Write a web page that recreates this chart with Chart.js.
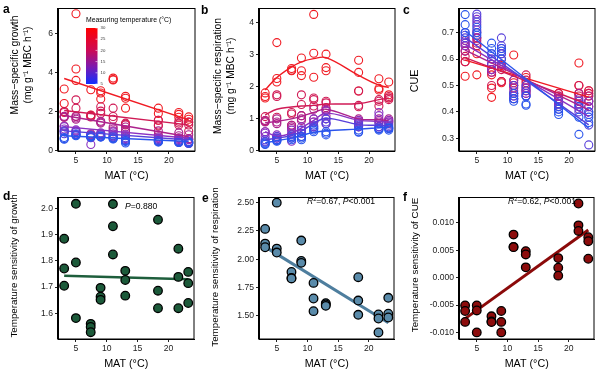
<!DOCTYPE html>
<html><head><meta charset="utf-8">
<script src="https://cdn.jsdelivr.net/npm/chart.js@4/dist/chart.umd.min.js"></script>
<style>
html,body{margin:0;padding:0;background:#fff}
body{width:600px;height:375px;position:relative;overflow:hidden}
canvas{position:absolute}
.lt{position:absolute;font:bold 12px "Liberation Sans",Arial,sans-serif;line-height:12px;color:#000}
</style></head><body>
<canvas id="pa" width="200" height="187" style="left:0;top:0"></canvas>
<canvas id="pb" width="200" height="187" style="left:200px;top:0"></canvas>
<canvas id="pc" width="200" height="187" style="left:400px;top:0"></canvas>
<canvas id="pd" width="200" height="188" style="left:0;top:187px"></canvas>
<canvas id="pe" width="200" height="188" style="left:200px;top:187px"></canvas>
<canvas id="pf" width="200" height="188" style="left:400px;top:187px"></canvas>
<div class="lt" style="left:3px;top:3px">a</div>
<div class="lt" style="left:201px;top:4px">b</div>
<div class="lt" style="left:403px;top:4px">c</div>
<div class="lt" style="left:3px;top:190px">d</div>
<div class="lt" style="left:202px;top:192px">e</div>
<div class="lt" style="left:403px;top:191px">f</div>
<script>
// ---------------- DATA ----------------
const mat = [3.1, 5, 7.4, 9, 11, 13, 18.3, 21.6, 23.2];
const temps = [5, 10, 15, 20, 25, 30];
const fitX = [3.1, 23.2];
const xTicks = [5, 10, 15, 20];

// (a) mass-specific growth, 3 replicates per site, per measuring temperature
const growth5  = [0.66,0.60,0.57, 0.80,0.78,0.75, 0.75,0.70,0.68, 0.72,0.70,0.68, 0.65,0.60,0.58, 0.50,0.45,0.38, 0.48,0.45,0.42, 0.45,0.42,0.40, 0.42,0.40,0.38];
const growth10 = [1.00,0.95,0.85, 0.95,0.85,0.80, 0.75,0.70,0.65, 0.80,0.75,0.70, 0.75,0.70,0.65, 0.65,0.55,0.50, 0.55,0.50,0.45, 0.50,0.45,0.40, 0.45,0.40,0.35];
const growth15 = [1.22,1.10,1.00, 1.05,1.00,0.95, 0.80,0.70,0.30, 0.90,0.85,0.80, 0.95,0.85,0.75, 0.80,0.75,0.60, 0.65,0.60,0.50, 0.60,0.55,0.45, 0.55,0.45,0.35];
const growth20 = [1.75,1.70,1.25, 1.75,1.66,1.60, 0.85,0.75,0.70, 1.50,1.45,1.40, 1.20,1.10,1.00, 1.20,1.05,0.95, 1.00,0.80,0.70, 0.90,0.75,0.65, 0.80,0.60,0.55];
const growth25 = [2.00,1.95,1.72, 2.60,2.17,1.74, 1.80,1.72,0.80, 2.24,2.02,1.90, 2.17,1.74,1.60, 1.40,1.35,1.30, 1.55,1.30,1.25, 1.50,1.40,1.30, 1.45,1.30,1.00];
const growth30 = [3.16,2.41,2.00, 7.03,4.19,3.60, 3.12,1.82,1.75, 3.07,2.95,2.64, 3.72,3.65,3.62, 2.78,2.68,2.17, 2.17,1.90,1.55, 1.95,1.85,1.70, 1.72,1.60,1.45];
const growthFit5 = [0.75, 0.45], growthFit10 = [1.00, 0.53], growthFit15 = [1.22, 0.62];
const growthFit20 = [1.79, 0.70], growthFit25 = [2.05, 1.31], growthFit30 = [3.70, 1.57];

// (b) mass-specific respiration
const resp5  = [0.25,0.22,0.20, 0.35,0.32,0.30, 0.45,0.40,0.35, 0.45,0.40,0.35, 0.70,0.65,0.60, 0.60,0.55,0.50, 0.65,0.60,0.58, 0.70,0.68,0.65, 0.72,0.70,0.65];
const resp10 = [0.35,0.30,0.28, 0.45,0.40,0.35, 0.50,0.45,0.40, 0.65,0.55,0.45, 0.80,0.75,0.70, 1.00,0.90,0.85, 0.85,0.80,0.75, 0.85,0.75,0.70, 0.80,0.75,0.70];
const resp15 = [0.60,0.55,0.45, 0.50,0.45,0.40, 0.65,0.55,0.30, 0.75,0.65,0.55, 1.00,0.90,0.75, 1.25,1.00,0.85, 0.95,0.90,0.75, 1.20,1.10,0.75, 0.95,0.90,0.85];
const resp20 = [0.95,0.90,0.60, 1.00,0.90,0.85, 0.80,0.75,0.70, 1.10,1.00,0.95, 1.30,1.00,0.90, 1.30,1.25,1.10, 1.00,0.95,0.90, 1.00,0.95,0.90, 1.00,0.95,0.90];
const resp25 = [1.07,0.95,0.92, 1.75,1.70,1.05, 1.20,1.15,0.80, 1.75,1.45,1.10, 1.65,1.60,1.40, 1.55,1.50,1.35, 1.87,1.42,1.38, 1.60,1.55,1.40, 1.70,1.65,1.60];
const resp30 = [1.81,1.70,1.65, 3.38,2.26,2.15, 2.57,2.52,2.50, 2.90,2.50,2.35, 4.26,3.05,2.30, 3.02,2.60,2.50, 2.83,2.45,1.87, 2.25,1.95,1.90, 2.15,1.75,1.65];
const respCurve5  = [0.25,0.32,0.40,0.48,0.58,0.63,0.68,0.72,0.74];
const respCurve10 = [0.34,0.40,0.48,0.62,0.85,1.02,0.82,0.80,0.78];
const respCurve15 = [0.60,0.46,0.55,0.72,0.95,1.18,0.96,0.92,0.90];
const respCurve20 = [0.88,0.92,1.00,1.08,1.20,1.30,1.00,0.97,0.95];
const respCurve25 = [1.12,1.30,1.37,1.40,1.42,1.46,1.48,1.60,1.65];
const respCurve30 = [1.90,2.29,2.62,2.78,2.88,2.91,2.36,2.05,1.98];

// (c) CUE
const cue5  = [0.768,0.73,0.70, 0.72,0.70,0.69, 0.66,0.64,0.62, 0.64,0.63,0.60, 0.47,0.45,0.44, 0.46,0.43,0.425, 0.41,0.40,0.39, 0.42,0.38,0.315, 0.40,0.38,0.36];
const cue10 = [0.70,0.69,0.68, 0.77,0.76,0.74, 0.62,0.60,0.58, 0.68,0.65,0.62, 0.50,0.46,0.45, 0.50,0.48,0.46, 0.44,0.42,0.41, 0.44,0.42,0.40, 0.39,0.35,0.275];
const cue15 = [0.67,0.66,0.65, 0.75,0.73,0.71, 0.60,0.58,0.56, 0.64,0.62,0.58, 0.52,0.48,0.46, 0.49,0.47,0.46, 0.45,0.43,0.42, 0.45,0.43,0.41, 0.44,0.42,0.40];
const cue20 = [0.66,0.65,0.63, 0.70,0.68,0.67, 0.58,0.56,0.55, 0.60,0.58,0.57, 0.50,0.47,0.45, 0.50,0.48,0.47, 0.46,0.44,0.43, 0.47,0.44,0.43, 0.46,0.44,0.42];
const cue25 = [0.63,0.61,0.59, 0.68,0.66,0.65, 0.56,0.55,0.50, 0.58,0.56,0.515, 0.52,0.49,0.47, 0.54,0.52,0.49, 0.47,0.45,0.43, 0.50,0.47,0.46, 0.48,0.47,0.44];
const cue30 = [0.67,0.59,0.535, 0.65,0.62,0.54, 0.54,0.49,0.455, 0.575,0.515,0.51, 0.615,0.51,0.50, 0.53,0.51,0.48, 0.47,0.46,0.45, 0.585,0.50,0.47, 0.48,0.47,0.46];
const cueFit5 = [0.706, 0.338], cueFit10 = [0.681, 0.351], cueFit15 = [0.655, 0.382];
const cueFit20 = [0.634, 0.408], cueFit25 = [0.605, 0.427], cueFit30 = [0.596, 0.456];

// (d)-(f) temperature sensitivities
const sensGrowth = [1.885,1.771,1.705, 2.019,1.794,1.581, 1.559,1.547,1.527, 1.697,1.663,1.651, 2.018,1.933,1.825, 1.762,1.727,1.667, 1.958,1.686,1.619, 1.847,1.739,1.619, 1.758,1.715,1.639];
const sensGrowthFit = [1.743, 1.730];
const sensResp = [2.268,2.138,2.106, 2.500,2.094,2.059, 1.888,1.835,1.830, 2.165,1.985,1.968, 1.791,1.653,1.541, 1.612,1.600,1.588, 1.841,1.635,1.509, 1.512,1.476,1.353, 1.659,1.518,1.485];
const sensRespFit = [2.109, 1.438];
const sensCUE = [-0.00506,-0.00608,-0.00807, -0.00506,-0.00598,-0.00998, -0.00705,-0.00800,-0.00810, -0.00608,-0.00807,-0.00998, 0.00783,0.00560,0.00555, 0.00482,0.00422,0.00187, 0.00355,0.00180,0.00036, 0.01350,0.00952,0.00850, 0.00735,0.00663,0.00343];
const sensCUEFit = [-0.00747, 0.00867];

// ---------------- STYLE ----------------
const tempColors = ['#2A55EC','#5840DA','#8A32C2','#AC228C','#D01A55','#F01A22'];

function hasFont(name){
  const c = document.createElement('canvas').getContext('2d');
  const s = 'MAT (°C) Temperature sensitivity 0123456789';
  c.font = '20px monospace'; const a = c.measureText(s).width;
  c.font = '20px "' + name + '", monospace'; const b = c.measureText(s).width;
  return Math.abs(a - b) > 0.5;
}
const NARROW = hasFont('Liberation Sans Narrow');
const FAM = NARROW ? '"Liberation Sans Narrow","Liberation Sans",Arial,sans-serif' : '"Liberation Sans",Arial,sans-serif';
const K = NARROW ? 1 : 0.86;
Chart.defaults.font.family = FAM;

const pts = arr => arr.map((v, i) => ({x: mat[Math.floor(i / 3)], y: v}));
const line2 = f => fitX.map((x, j) => ({x, y: f[j]}));
const curve = c => mat.map((x, j) => ({x, y: c[j]}));

const boxPlugin = {id:'box', afterDraw(ch){
  const {ctx, chartArea:a} = ch; ctx.save(); ctx.strokeStyle = '#000'; ctx.lineWidth = 1;
  ctx.strokeRect(Math.round(a.left) - 0.5, Math.round(a.top) + 0.5, Math.round(a.right - a.left) + 0.5, Math.round(a.bottom - a.top) - 0.5);
  ctx.restore();
}};
const ytitlePlugin = {id:'ytitle', afterDraw(ch, args, o){
  if (!o || !o.lines) return;
  const ctx = ch.ctx; ctx.save();
  ctx.translate(o.x, o.cy); ctx.rotate(-Math.PI / 2);
  ctx.fillStyle = '#000'; ctx.textAlign = 'center'; ctx.textBaseline = 'middle';
  ctx.font = (o.size * K) + 'px ' + FAM;
  o.lines.forEach((t, i) => ctx.fillText(t, 0, i * o.lh));
  ctx.restore();
}};
const annoPlugin = {id:'anno', afterDraw(ch, args, o){
  if (!o || !o.parts) return;
  const ctx = ch.ctx; ctx.save(); ctx.fillStyle = '#000'; ctx.textBaseline = 'middle'; ctx.textAlign = 'left';
  let x = o.x; const s = 10 * K;
  o.parts.forEach(p => {
    const sz = p.sup ? s * 0.65 : s;
    ctx.font = (p.it ? 'italic ' : '') + sz + 'px ' + FAM;
    ctx.fillText(p.t, x, p.sup ? o.y - s * 0.35 : o.y);
    x += ctx.measureText(p.t).width;
  });
  ctx.restore();
}};
const colorbarPlugin = {id:'colorbar', afterDraw(ch, args, o){
  if (!o || !o.show) return;
  const ctx = ch.ctx; ctx.save();
  const x0 = 86, x1 = 97.5, y0 = 28, y1 = 84;
  const g = ctx.createLinearGradient(0, y0, 0, y1);
  g.addColorStop(0, '#FF0000'); g.addColorStop(0.4, '#CC0A55'); g.addColorStop(0.7, '#7A1AB2'); g.addColorStop(1, '#1030FF');
  ctx.fillStyle = g; ctx.fillRect(x0, y0, x1 - x0, y1 - y0);
  ctx.fillStyle = '#000'; ctx.textBaseline = 'middle'; ctx.textAlign = 'left';
  ctx.font = (8 * K) + 'px ' + FAM;
  ctx.fillText('Measuring temperature (°C)', 86, 20.5);
  ctx.font = (5 * K) + 'px ' + FAM; ctx.fillStyle = '#333'; ctx.strokeStyle = '#fff'; ctx.lineWidth = 0.6;
  temps.forEach(t => {
    const y = y1 - (t - 5) / 25 * (y1 - y0);
    ctx.beginPath(); ctx.moveTo(x1 - 2, y); ctx.lineTo(x1, y); ctx.stroke();
    ctx.fillText(String(t), x1 + 3, y);
  });
  ctx.restore();
}};

function makePanel(id, cfg){
  const axisCommon = {
    grid:{drawOnChartArea:false, drawTicks:true, tickLength:3, tickColor:'#222', tickWidth:1},
    border:{display:true, color:'#000', width:1}
  };
  return new Chart(document.getElementById(id), {
    type:'scatter',
    data:{datasets: cfg.datasets},
    options:{
      responsive:false, animation:false, devicePixelRatio:1,
      layout:{padding:{top:cfg.top, right:3, left:0, bottom:0}},
      plugins:{legend:{display:false}, tooltip:{enabled:false},
        ytitle: cfg.ytitle, anno: cfg.anno || {}, colorbar: cfg.colorbar || {}},
      scales:{
        x:Object.assign({type:'linear', min:2.1, max:24.2, afterFit(s){ s.height = 36; },
          afterBuildTicks(s){ s.ticks = xTicks.map(v => ({value:v})); },
          ticks:{maxRotation:0, padding:1, font:{size:10 * K}, color:'#222'},
          title:{display:true, text:'MAT (°C)', font:{size:12.5 * K}, color:'#000', padding:{top:0, bottom:5}}}, axisCommon),
        y:Object.assign({type:'linear', min:cfg.ymin, max:cfg.ymax, afterFit(s){ s.width = cfg.yw; },
          afterBuildTicks(s){ s.ticks = cfg.yticks.map(v => ({value:v})); },
          ticks:{padding:2, font:{size:10 * K}, color:'#222', callback:v => cfg.fmt(v)}}, axisCommon)
      }
    },
    plugins:[boxPlugin, ytitlePlugin, annoPlugin, colorbarPlugin]
  });
}

function tempSets(series, fits, isCurve){
  const ds = [];
  series.forEach((arr, i) => {
    ds.push({data: isCurve ? curve(fits[i]) : line2(fits[i]), showLine:true, borderColor: tempColors[i], borderWidth:1.4,
      pointRadius:0, fill:false, tension: isCurve ? 0.4 : 0, order:0});
  });
  series.forEach((arr, i) => {
    ds.push({data: pts(arr), borderColor: tempColors[i], backgroundColor:'rgba(0,0,0,0)', pointRadius:4, borderWidth:1.1, order:1});
  });
  return ds;
}
function sensSets(vals, fit, fillC, lineC, lw){
  return [
    {data: line2(fit), showLine:true, borderColor: lineC, borderWidth: lw, pointRadius:0, order:1},
    {data: pts(vals), backgroundColor: fillC, borderColor:'#000', borderWidth:1.3, pointRadius:4.3, order:0}
  ];
}

makePanel('pa', {top:8, yw:58, ymin:-0.036, ymax:7.33, yticks:[0,2,4,6], fmt:v => String(v),
  datasets: tempSets([growth5,growth10,growth15,growth20,growth25,growth30],
    [growthFit5,growthFit10,growthFit15,growthFit20,growthFit25,growthFit30], false),
  ytitle:{lines:['Mass−specific growth','(mg g⁻¹ MBC h⁻¹)'], x:15, cy:65, lh:13, size:12},
  colorbar:{show:true}});
makePanel('pb', {top:8, yw:59, ymin:-0.003, ymax:4.46, yticks:[0,1,2,3,4], fmt:v => String(v),
  datasets: tempSets([resp5,resp10,resp15,resp20,resp25,resp30],
    [respCurve5,respCurve10,respCurve15,respCurve20,respCurve25,respCurve30], true),
  ytitle:{lines:['Mass−specific respiration','(mg g⁻¹ MBC h⁻¹)'], x:18, cy:76, lh:13, size:12}});
makePanel('pc', {top:8, yw:59, ymin:0.252, ymax:0.793, yticks:[0.3,0.4,0.5,0.6,0.7], fmt:v => v.toFixed(1),
  datasets: tempSets([cue5,cue10,cue15,cue20,cue25,cue30],
    [cueFit5,cueFit10,cueFit15,cueFit20,cueFit25,cueFit30], false),
  ytitle:{lines:['CUE'], x:15, cy:81, lh:13, size:12.5}});
makePanel('pd', {top:10, yw:58, ymin:1.501, ymax:2.045, yticks:[1.6,1.7,1.8,1.9,2.0], fmt:v => v.toFixed(1),
  datasets: sensSets(sensGrowth, sensGrowthFit, '#1C5A3A', '#1E5E3C', 2.5),
  ytitle:{lines:['Temperature sensitivity of growth'], x:14, cy:79, lh:13, size:11.4},
  anno:{x:125, y:20, parts:[{t:'P', it:true},{t:'=0.880'}]}});
makePanel('pe', {top:10, yw:59, ymin:1.295, ymax:2.55, yticks:[1.5,1.75,2.0,2.25,2.5], fmt:v => v.toFixed(2),
  datasets: sensSets(sensResp, sensRespFit, '#5A8BAA', '#4E7E9E', 3),
  ytitle:{lines:['Temperature sensitivity of respiration'], x:15, cy:80, lh:13, size:11.4},
  anno:{x:107, y:15, parts:[{t:'R', it:true},{t:'2', sup:true},{t:'=0.67, '},{t:'P', it:true},{t:'<0.001'}]}});
makePanel('pf', {top:10, yw:59, ymin:-0.01118, ymax:0.01468, yticks:[-0.01,-0.005,0,0.005,0.01],
  fmt:v => (Math.abs(v) < 1e-9 ? 0 : v).toFixed(3),
  datasets: sensSets(sensCUE, sensCUEFit, '#8C0C0C', '#8B0A0A', 3),
  ytitle:{lines:['Temperature sensitivity of CUE'], x:15, cy:78, lh:13, size:11.4},
  anno:{x:108, y:15, parts:[{t:'R', it:true},{t:'2', sup:true},{t:'=0.62, '},{t:'P', it:true},{t:'<0.001'}]}});
</script>
</body></html>
